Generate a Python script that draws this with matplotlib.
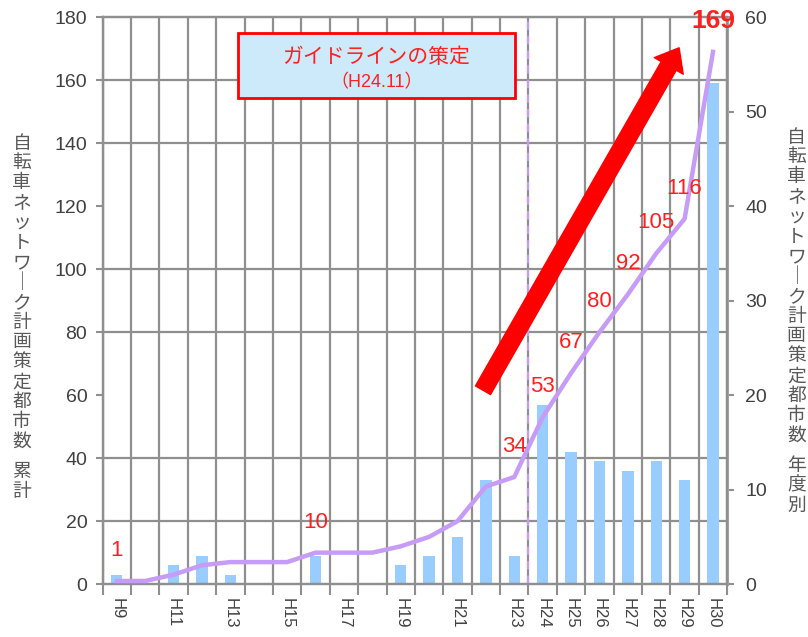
import numpy as np
import matplotlib.pyplot as plt
from matplotlib.patches import Rectangle

plt.rcParams['font.family'] = ['Liberation Sans', 'Noto Sans CJK JP', 'DejaVu Sans']

# data
years = ['H9', 'H10', 'H11', 'H12', 'H13', 'H14', 'H15', 'H16', 'H17', 'H18', 'H19',
         'H20', 'H21', 'H22', 'H23', 'H24', 'H25', 'H26', 'H27', 'H28', 'H29', 'H30']
yearly = [1, 0, 2, 3, 1, 0, 0, 3, 0, 0, 2, 3, 5, 11, 3, 19, 14, 13, 12, 13, 11, 53]
cumulative = [1, 1, 3, 6, 7, 7, 7, 10, 10, 10, 12, 15, 20, 31, 34, 53, 67, 80, 92, 105, 116, 169]
shown_ticks = ['H9', 'H11', 'H13', 'H15', 'H17', 'H19', 'H21', 'H23',
               'H24', 'H25', 'H26', 'H27', 'H28', 'H29', 'H30']
labeled = ['H9', 'H16', 'H23', 'H24', 'H25', 'H26', 'H27', 'H28', 'H29', 'H30']
guideline_year = 'H24'

title_main = '自転車ネットワーク計画策定都市数'
left_suffix = '累計'
right_suffix = '年度別'

grid_c = '#8f8f8f'
red = '#ff1f1f'
purple = '#c69cf7'
txt_c = '#404040'

x = np.arange(len(years))

fig = plt.figure(figsize=(8.08, 6.37), dpi=100)
ax = fig.add_axes([0.127, 0.083, 0.773, 0.890])
ax2 = ax.twinx()
ax.set_zorder(ax2.get_zorder() + 1)
ax.patch.set_visible(False)

# right axis: bars + grid (grid sits below the bars)
ax2.set_ylim(0, 60)
ax2.set_yticks(np.arange(0, 61, 10))
ax2.set_yticks(np.arange(0, 61, 20 / 3), minor=True)
ax2.grid(True, which='minor', axis='y', color=grid_c, lw=1.6)
ax2.tick_params(axis='y', which='minor', length=0)
ax2.tick_params(axis='y', which='major', length=5, color=grid_c, width=1.5,
                labelsize=14, labelcolor=txt_c, pad=8)
ax2.vlines(np.arange(-0.5, len(years)), 0, 1, transform=ax2.get_xaxis_transform(),
           color=grid_c, lw=1.6, zorder=1.5)
ax2.bar(x, yearly, width=0.4, color='#99ccff', zorder=2)

# left axis: cumulative line
ax.set_xlim(-0.5, len(years) - 0.5)
ax.set_ylim(0, 180)
ax.set_yticks(np.arange(0, 181, 20))
ax.tick_params(axis='y', length=5, color=grid_c, width=1.5, labelsize=14,
               labelcolor=txt_c, pad=6)
ax.plot(x, cumulative, color=purple, lw=3.2, solid_joinstyle='round', zorder=3)

gi = years.index(guideline_year)
ax.axvline(gi - 0.5, color=purple, lw=1.5, ls=(0, (4, 3)), zorder=2)

ax.set_xticks(x)
ax.set_xticklabels([y if y in shown_ticks else '' for y in years],
                   rotation=-90, fontsize=12, color=txt_c)
ax.set_xticks(np.arange(-0.5, len(years)), minor=True)
ax.tick_params(axis='x', which='major', length=0, pad=10)
ax.tick_params(axis='x', which='minor', length=8, color=grid_c, width=1.5)

for a in (ax, ax2):
    for s in a.spines.values():
        s.set_color(grid_c)
        s.set_linewidth(1.6)
ax2.spines['right'].set_color('#a6a6a6')
ax2.spines['right'].set_linewidth(2.2)

for y in labeled:
    i = years.index(y)
    v = cumulative[i]
    last = (y == years[-1])
    ax.annotate(str(v), (i, v), xytext=(0, 22), textcoords='offset points',
                ha='center', va='center', color=red,
                fontsize=19 if last else 16,
                fontweight='bold' if last else 'normal', zorder=6)

# big red arrow
ax.annotate('', xy=(0.923, 0.946), xytext=(0.609, 0.342), xycoords='axes fraction',
            arrowprops=dict(arrowstyle='simple,head_length=1.5,head_width=2.4,tail_width=1.25',
                            mutation_scale=10, color='red', shrinkA=0, shrinkB=0),
            zorder=4)

# guideline box
ax.add_patch(Rectangle((0.2166, 0.857), 0.4434, 0.115, transform=ax.transAxes,
                       facecolor='#cdeafa', edgecolor='red', lw=2, zorder=5))
ax.text(0.4383, 0.929, 'ガイドラインの策定', transform=ax.transAxes, ha='center',
        va='center', color=red, fontsize=15, zorder=6)
ax.text(0.4383, 0.884, '（H24.11）', transform=ax.transAxes, ha='center',
        va='center', color=red, fontsize=13, zorder=6)


# stacked (vertical-writing) axis titles, one glyph per position
def vertical_title(xc, y_first, words, pitch=19.9, gap=10, size=13.5):
    H = fig.get_figheight() * fig.dpi
    ypix = y_first
    for w, word in enumerate(words):
        if w > 0:
            ypix += gap
        for ch in word:
            glyph = '｜' if ch == 'ー' else ch
            fig.text(xc, 1 - ypix / H, glyph, ha='center', va='center', fontsize=size,
                     family='Noto Sans CJK JP', color='#595959')
            ypix += pitch


vertical_title(0.027, 143, [title_main, left_suffix])
vertical_title(0.986, 137, [title_main, right_suffix])

fig.savefig('out.png', dpi=100, facecolor='white')
